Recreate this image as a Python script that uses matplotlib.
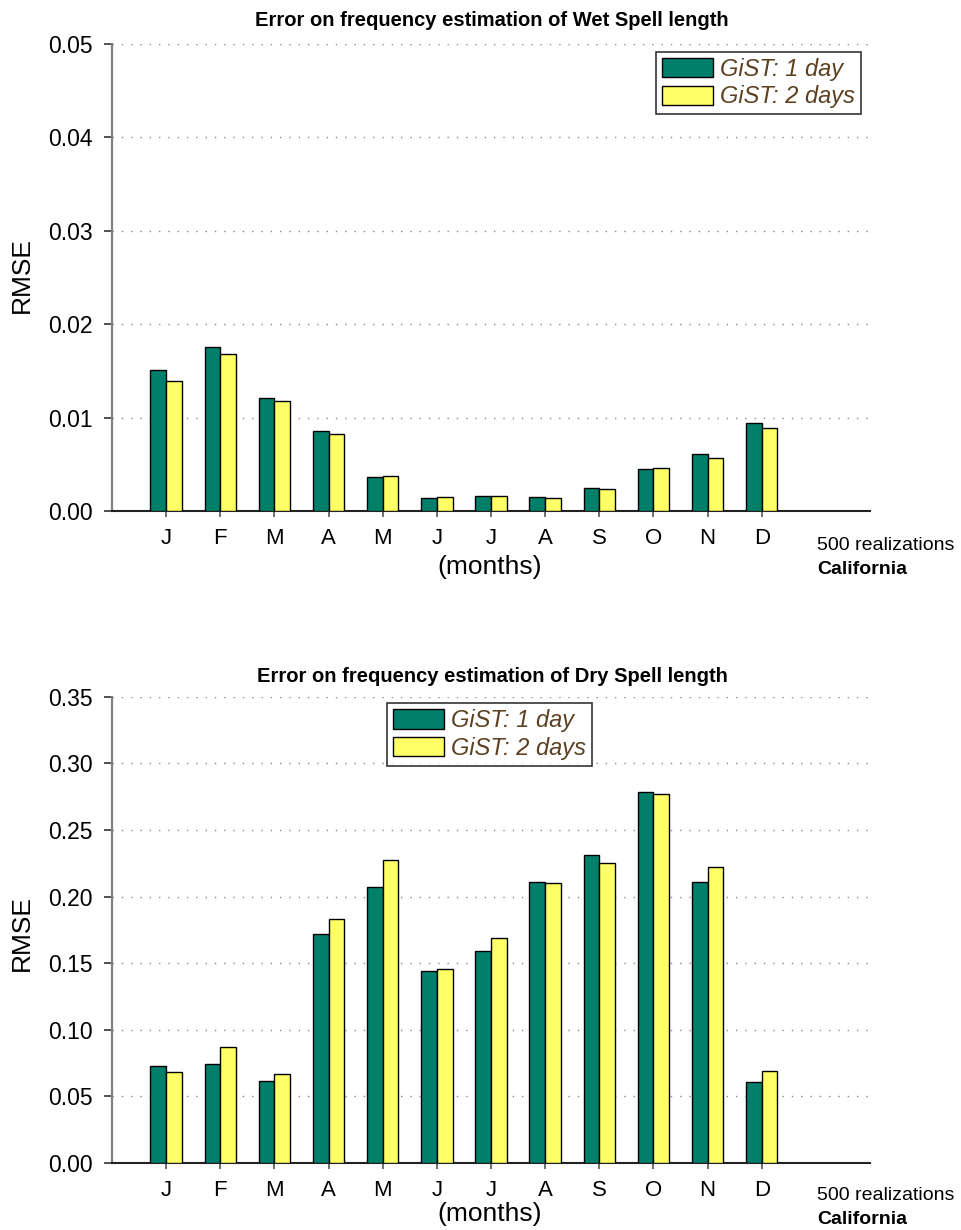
import matplotlib
matplotlib.use("Agg")
import matplotlib.pyplot as plt
import numpy as np
from matplotlib.ticker import FormatStrFormatter

plt.rcParams["font.family"] = ["Liberation Sans", "DejaVu Sans"]

# month initials and RMSE per month for the two GiST configurations
months = ["J", "F", "M", "A", "M", "J", "J", "A", "S", "O", "N", "D"]

wet_1day = [0.0151, 0.0176, 0.0121, 0.0086, 0.0036, 0.0014, 0.0016, 0.0015, 0.0025, 0.0045, 0.0061, 0.0094]
wet_2days = [0.0139, 0.0168, 0.0118, 0.0082, 0.0037, 0.0015, 0.0016, 0.0014, 0.0023, 0.0046, 0.0057, 0.0089]

dry_1day = [0.0726, 0.0745, 0.0612, 0.1717, 0.2071, 0.1440, 0.1593, 0.2107, 0.2316, 0.2785, 0.2109, 0.0611]
dry_2days = [0.0686, 0.0874, 0.0670, 0.1830, 0.2274, 0.1458, 0.1690, 0.2100, 0.2256, 0.2768, 0.2220, 0.0690]

GREEN = "#00806A"
YELLOW = "#FFFF66"
LEGEND_TXT = "#5C4020"

W, H = 961, 1230


def px(x, y):
    """pixel position (from top-left) -> figure fraction"""
    return x / W, 1 - y / H


def draw_panel(fig, rect, s1, s2, title, ymax, ystep, leg_anchor, ys):
    ax = fig.add_axes(rect)
    x = np.arange(1, len(months) + 1)
    w = 0.29
    ax.bar(x - w / 2, s1, width=w, color=GREEN, edgecolor="black", lw=1.0,
           label="GiST: 1 day", zorder=3)
    ax.bar(x + w / 2, s2, width=w, color=YELLOW, edgecolor="black", lw=1.0,
           label="GiST: 2 days", zorder=3)

    ax.set_xlim(0, 14)
    ax.set_ylim(0, ymax)
    ax.set_yticks(np.arange(0, ymax + ystep / 2, ystep))
    ax.yaxis.set_major_formatter(FormatStrFormatter("%.2f"))
    ax.set_xticks(x)
    ax.set_xticklabels(months)

    ax.grid(axis="y", color="#888888", lw=1.0, ls=(0, (1, 5.7)), zorder=0)
    ax.set_axisbelow(True)
    for side in ("top", "right"):
        ax.spines[side].set_visible(False)
    ax.spines["left"].set_color("#808080")
    ax.spines["left"].set_linewidth(1.6)
    ax.spines["bottom"].set_color("#222222")
    ax.spines["bottom"].set_linewidth(1.5)

    ax.tick_params(axis="y", length=5.8, width=1.2, color="#333333", labelsize=16.5, pad=8)
    ax.tick_params(axis="x", length=4.3, width=1.2, color="#555555", labelsize=16,
                   pad=ys["xpad"])

    fig.text(*px(492, ys["title"]), title, fontsize=14.5, fontweight="bold",
             ha="center", va="center")
    fig.text(*px(22, ys["rmse"]), "RMSE", fontsize=19, rotation=90,
             ha="center", va="center")
    fig.text(*px(490, ys["months"]), "(months)", fontsize=19,
             ha="center", va="center")

    leg = ax.legend(loc="upper left", bbox_to_anchor=leg_anchor, fontsize=17,
                    frameon=True, fancybox=False, edgecolor="black",
                    handlelength=2.15, handleheight=0.9, handletextpad=0.3,
                    labelspacing=0.2, borderpad=0.25, borderaxespad=0)
    leg.get_frame().set_linewidth(1.2)
    for t in leg.get_texts():
        t.set_style("italic")
        t.set_color(LEGEND_TXT)

    fig.text(*px(817, ys["note"]), "500 realizations", fontsize=14, va="center")
    fig.text(*px(817, ys["note"] + 25), "California", fontsize=14,
             fontweight="bold", va="center")
    return ax


fig = plt.figure(figsize=(W / 100, H / 100), dpi=100)

draw_panel(fig, [0.1165, 0.5846, 0.7888, 0.3797], wet_1day, wet_2days,
           "Error on frequency estimation of Wet Spell length",
           0.05, 0.01, (0.7177, 0.983),
           {"title": 21, "rmse": 275, "months": 567, "note": 545, "xpad": 8})
draw_panel(fig, [0.1165, 0.0545, 0.7888, 0.3789], dry_1day, dry_2days,
           "Error on frequency estimation of Dry Spell length",
           0.35, 0.05, (0.3628, 0.987),
           {"title": 676, "rmse": 933, "months": 1214, "note": 1195, "xpad": 8})

fig.savefig("out.png", dpi=100)
